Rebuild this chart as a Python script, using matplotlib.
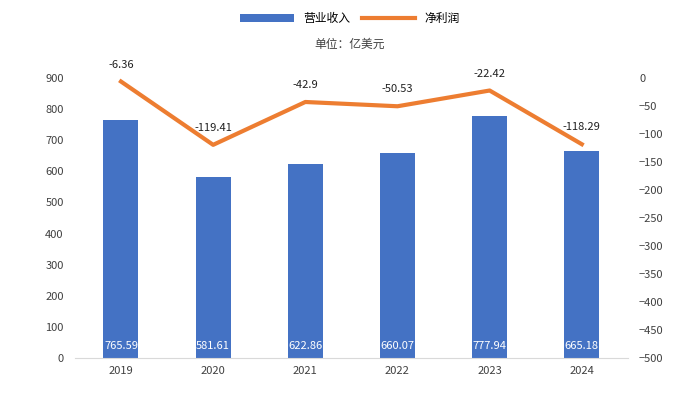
import matplotlib
matplotlib.use("Agg")
import matplotlib.pyplot as plt
import numpy as np

plt.rcParams['font.family'] = ['Noto Sans CJK SC', 'DejaVu Sans']

years = ['2019', '2020', '2021', '2022', '2023', '2024']
revenue = [765.59, 581.61, 622.86, 660.07, 777.94, 665.18]
profit = [-6.36, -119.41, -42.9, -50.53, -22.42, -118.29]

fig = plt.figure(figsize=(7, 4.18), dpi=100)
ax = fig.add_axes([0.107, 0.1435, 0.79, 0.67])
x = np.arange(len(years))
bars = ax.bar(x, revenue, width=0.38, color='#4472C4', label='营业收入', zorder=2)
ax.set_ylim(0, 900)
ax.set_yticks(range(0, 901, 100))
ax.set_xlim(-0.5, len(years) - 0.5)
ax.set_xticks(x)
ax.set_xticklabels(years)
for s in ['top', 'right', 'left']:
    ax.spines[s].set_visible(False)
ax.spines['bottom'].set_color('#D9D9D9')
ax.tick_params(length=0, labelsize=8, colors='#404040')
ax.tick_params(axis='y', pad=8)
ax.tick_params(axis='x', pad=6)
for xi, v in zip(x, revenue):
    ax.text(xi, 38, f'{v:g}', ha='center', va='center', color='white', fontsize=8)

ax2 = ax.twinx()
line, = ax2.plot(x, profit, color='#ED7D31', lw=3, label='净利润', zorder=3)
ax2.set_ylim(-500, 0)
ax2.set_yticks(range(-500, 1, 50))
for s in ['top', 'right', 'left', 'bottom']:
    ax2.spines[s].set_visible(False)
ax2.tick_params(length=0, labelsize=8, colors='#404040', pad=8)
for xi, v in zip(x, profit):
    ax2.text(xi, v + 30, f'{v:g}', ha='center', va='center', color='#202020', fontsize=8)

fig.legend([bars, line], ['营业收入', '净利润'], loc='center', bbox_to_anchor=(0.5, 0.955),
           ncol=2, frameon=False, fontsize=8.5, handlelength=4.5, handleheight=0.6, columnspacing=1.0)
fig.text(0.5, 0.895, '单位：亿美元', ha='center', va='center', fontsize=8.5, color='#404040')
fig.savefig('out.png', dpi=100, facecolor='white')
